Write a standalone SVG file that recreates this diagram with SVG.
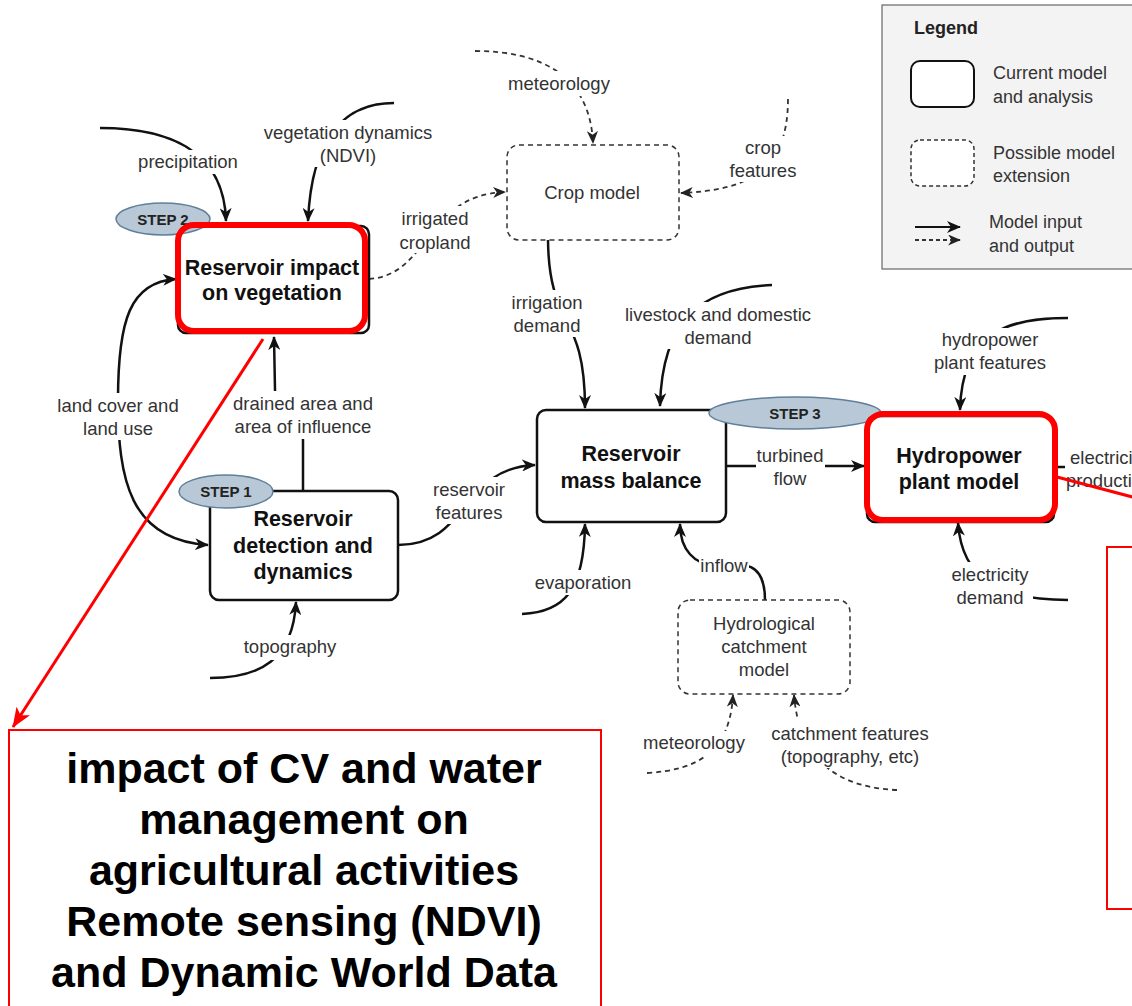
<svg xmlns="http://www.w3.org/2000/svg" width="1132" height="1006" viewBox="0 0 1132 1006">
<defs>
<style>
text{font-family:"Liberation Sans",Arial,sans-serif}
.lbl{font-size:18.5px;fill:#333;text-anchor:middle}
.bg{fill:#fff}
.node{fill:#fff;stroke:#111;stroke-width:2.5}
.ext{fill:#fff;stroke:#333;stroke-width:1.5;stroke-dasharray:5 4}
.red{fill:none;stroke:#f00;stroke-width:6}
.nt{font-size:21.5px;font-weight:bold;fill:#111;text-anchor:middle}
.xt{font-size:18.5px;fill:#333;text-anchor:middle}
.step{fill:#b8c8d6;stroke:#5f7f9a;stroke-width:1.5}
.st{font-size:15px;font-weight:bold;fill:#222;text-anchor:middle}
.c{fill:none;stroke:#111;stroke-width:2.5;marker-end:url(#ah)}
.d{fill:none;stroke:#333;stroke-width:1.8;stroke-dasharray:5 4;marker-end:url(#ahd)}
.lg{font-size:18px;fill:#333}
.big{font-size:43px;font-weight:bold;fill:#000;text-anchor:middle}
</style>
<marker id="ah" markerUnits="userSpaceOnUse" viewBox="0 0 14 12" markerWidth="14" markerHeight="12" refX="13" refY="6" orient="auto-start-reverse"><path d="M0,0 L14,6 L0,12 L4,6 Z" fill="#111"/></marker>
<marker id="ahd" markerUnits="userSpaceOnUse" viewBox="0 0 14 12" markerWidth="13" markerHeight="11" refX="13" refY="6" orient="auto"><path d="M0,0 L14,6 L0,12 L4,6 Z" fill="#222"/></marker>
<marker id="ahr" markerUnits="userSpaceOnUse" viewBox="0 0 20 16" markerWidth="20" markerHeight="16" refX="19" refY="8" orient="auto"><path d="M0,0 L20,8 L0,16 L5,8 Z" fill="#f00"/></marker>
</defs>
<rect width="1132" height="1006" fill="#fff"/>

<g id="legend">
<rect x="882" y="5" width="262" height="264" fill="#f3f3f3" stroke="#666" stroke-width="1.2"/>
<text x="914" y="34" font-size="18" font-weight="bold" fill="#222">Legend</text>
<rect x="911" y="61" width="63" height="46" rx="9" fill="#fff" stroke="#111" stroke-width="2"/>
<text class="lg" x="993" y="79">Current model</text>
<text class="lg" x="993" y="103">and analysis</text>
<rect x="911" y="140" width="63" height="46" rx="9" fill="#fff" stroke="#333" stroke-width="1.5" stroke-dasharray="4 3"/>
<text class="lg" x="993" y="159">Possible model</text>
<text class="lg" x="993" y="182">extension</text>
<line x1="915" y1="227" x2="960" y2="227" stroke="#111" stroke-width="2" marker-end="url(#ah)"/>
<line x1="915" y1="240" x2="960" y2="240" stroke="#333" stroke-width="1.8" stroke-dasharray="4 3" marker-end="url(#ahd)"/>
<text class="lg" x="989" y="228">Model input</text>
<text class="lg" x="989" y="252">and output</text>
</g>

<g id="connectors">
<path class="c" d="M100,128 C165,128 224,148 226,221"/>
<path class="c" d="M394,103 C350,103 312,130 308,221"/>
<path class="d" d="M369,279 C430,275 425,195 505,192"/>
<path class="d" d="M475,51 C540,51 590,75 593,143"/>
<path class="d" d="M788,99 C788,170 750,190 681,193"/>
<path class="c" d="M548,240 C549,330 585,310 585,408"/>
<path class="c" d="M772,285 C700,288 662,320 660,406"/>
<path class="c" d="M176,279 C130,282 118,320 118,400 C118,480 130,540 208,545" marker-start="url(#ah)"/>
<path class="c" d="M303,491 L303,440 C303,410 275,410 275,390 L274,337"/>
<path class="c" d="M398,545 C470,545 460,468 535,465"/>
<path class="c" d="M727,466 L864,466"/>
<path class="c" d="M522,614 C565,612 584,590 585,524"/>
<path class="c" d="M765,600 C765,575 755,565 740,565 L715,565 C695,565 680,550 680,524"/>
<path class="c" d="M210,678 C260,678 293,660 296,602"/>
<path class="c" d="M1068,318 C1010,318 962,330 960,410"/>
<path class="c" d="M1068,600 C1000,600 962,580 958,523"/>
<path d="M1056,467 L1065,467" stroke="#111" stroke-width="2.5"/>
<path class="d" d="M647,773 C700,770 730,750 733,695"/>
<path class="d" d="M897,790 C850,788 800,770 794,695"/>
</g>

<g id="crop-model">
<rect class="ext" x="507" y="145" width="172" height="95" rx="12"/>
<text class="xt" x="592" y="198.5">Crop model</text>
</g>
<g id="hydrological-catchment-model">
<rect class="ext" x="678" y="600" width="172" height="94" rx="12"/>
<text class="xt" x="764" y="629.5">Hydrological</text>
<text class="xt" x="764" y="652.5">catchment</text>
<text class="xt" x="764" y="675.5">model</text>
</g>
<g id="reservoir-impact">
<rect class="node" x="178" y="226" width="191" height="107" rx="8"/>
<ellipse class="step" cx="163" cy="219" rx="47" ry="16"/>
<text class="st" x="163" y="224.5">STEP 2</text>
<rect class="red" x="178" y="225" width="187" height="106" rx="16"/>
<text class="nt" x="272" y="275">Reservoir impact</text>
<text class="nt" x="272" y="300">on vegetation</text>
</g>
<g id="reservoir-detection">
<rect class="node" x="210" y="491" width="188" height="109" rx="9"/>
<ellipse class="step" cx="226" cy="491.5" rx="47" ry="16.5"/>
<text class="st" x="226" y="497">STEP 1</text>
<text class="nt" x="303" y="526">Reservoir</text>
<text class="nt" x="303" y="553">detection and</text>
<text class="nt" x="303" y="579">dynamics</text>
</g>
<g id="reservoir-mass-balance">
<rect class="node" x="537" y="410" width="189" height="112" rx="9"/>
<ellipse class="step" cx="795" cy="413" rx="86" ry="16"/>
<text class="st" x="795" y="418.5">STEP 3</text>
<text class="nt" x="631" y="461">Reservoir</text>
<text class="nt" x="631" y="488">mass balance</text>
</g>
<g id="hydropower-plant-model">
<rect class="node" x="867" y="416" width="187" height="106" rx="8"/>
<rect class="red" x="867" y="414" width="188" height="106" rx="16"/>
<text class="nt" x="959" y="463">Hydropower</text>
<text class="nt" x="959" y="489">plant model</text>
</g>

<g id="labels">
<rect class="bg" x="136" y="150" width="104" height="24"/>
<text class="lbl" x="188" y="167.5">precipitation</text>
<rect class="bg" x="261" y="120" width="174" height="47"/>
<text class="lbl" x="348" y="138.5">vegetation dynamics</text>
<text class="lbl" x="348" y="161.5">(NDVI)</text>
<rect class="bg" x="398" y="206" width="74" height="47"/>
<text class="lbl" x="435" y="224.5">irrigated</text>
<text class="lbl" x="435" y="248.5">cropland</text>
<rect class="bg" x="506" y="71" width="106" height="25"/>
<text class="lbl" x="559" y="89.5">meteorology</text>
<rect class="bg" x="727" y="136" width="72" height="46"/>
<text class="lbl" x="763" y="153.5">crop</text>
<text class="lbl" x="763" y="176.5">features</text>
<rect class="bg" x="509" y="290" width="77" height="47"/>
<text class="lbl" x="547" y="308.5">irrigation</text>
<text class="lbl" x="547" y="331.5">demand</text>
<rect class="bg" x="622" y="302" width="192" height="47"/>
<text class="lbl" x="718" y="320.5">livestock and domestic</text>
<text class="lbl" x="718" y="343.5">demand</text>
<rect class="bg" x="756" y="443" width="69" height="47"/>
<text class="lbl" x="790" y="461.5">turbined</text>
<text class="lbl" x="790" y="484.5">flow</text>
<rect class="bg" x="533" y="570" width="100" height="25"/>
<text class="lbl" x="583" y="588.5">evaporation</text>
<rect class="bg" x="699" y="554" width="50" height="24"/>
<text class="lbl" x="724" y="571.5">inflow</text>
<rect class="bg" x="55" y="393" width="126" height="47"/>
<text class="lbl" x="118" y="411.5">land cover and</text>
<text class="lbl" x="118" y="434.5">land use</text>
<rect class="bg" x="231" y="391" width="144" height="48"/>
<text class="lbl" x="303" y="409.5">drained area and</text>
<text class="lbl" x="303" y="433">area of influence</text>
<rect class="bg" x="431" y="477" width="76" height="47"/>
<text class="lbl" x="469" y="496">reservoir</text>
<text class="lbl" x="469" y="519">features</text>
<rect class="bg" x="241" y="635" width="98" height="25"/>
<text class="lbl" x="290" y="653">topography</text>
<rect class="bg" x="932" y="328" width="116" height="47"/>
<text class="lbl" x="990" y="346">hydropower</text>
<text class="lbl" x="990" y="369">plant features</text>
<rect class="bg" x="947" y="562" width="86" height="47"/>
<text class="lbl" x="990" y="581">electricity</text>
<text class="lbl" x="990" y="604">demand</text>
<rect class="bg" x="1066" y="445" width="70" height="47"/>
<text class="lbl" x="1070" y="463.5" text-anchor="start" style="text-anchor:start">electricity</text>
<text class="lbl" x="1066" y="487" style="text-anchor:start">production</text>
<rect class="bg" x="641" y="731" width="106" height="25"/>
<text class="lbl" x="694" y="749">meteorology</text>
<rect class="bg" x="769" y="720" width="162" height="48"/>
<text class="lbl" x="850" y="739.5">catchment features</text>
<text class="lbl" x="850" y="762.5">(topography, etc)</text>
</g>

<g id="annotations">
<line x1="263" y1="339" x2="13" y2="727" stroke="#f00" stroke-width="3" marker-end="url(#ahr)"/>
<line x1="1057" y1="477" x2="1140" y2="499" stroke="#f00" stroke-width="3"/>
<rect x="9" y="730" width="592" height="290" fill="#fff" stroke="#f00" stroke-width="2"/>
<text class="big" x="304" y="783">impact of CV and water</text>
<text class="big" x="304" y="834">management on</text>
<text class="big" x="304" y="885">agricultural activities</text>
<text class="big" x="304" y="936">Remote sensing (NDVI)</text>
<text class="big" x="304" y="987">and Dynamic World Data</text>
<rect x="1107" y="547" width="40" height="362" fill="#fff" stroke="#f00" stroke-width="2"/>
</g>
</svg>
